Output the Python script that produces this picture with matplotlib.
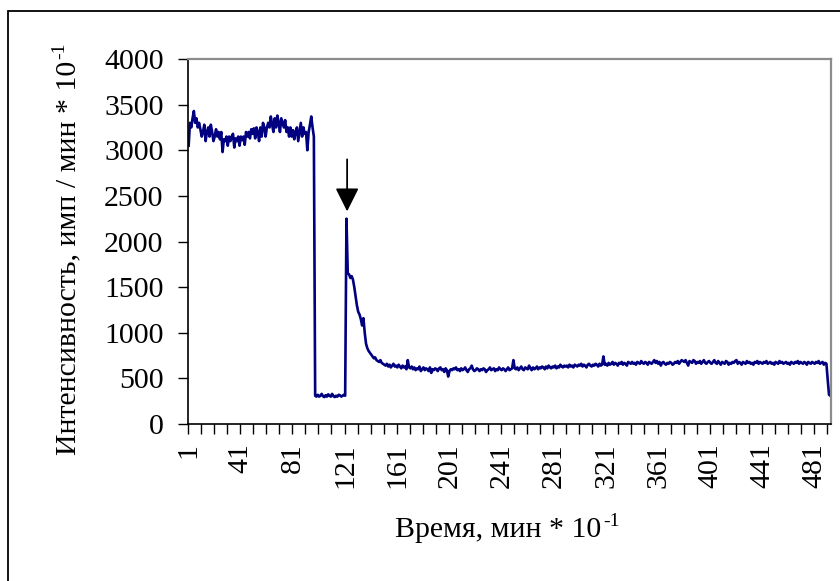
import numpy as np
import matplotlib
matplotlib.use("Agg")
import matplotlib.pyplot as plt
from matplotlib.patches import Rectangle
from matplotlib.ticker import FixedLocator

plt.rcParams['font.family'] = ['Liberation Serif', 'DejaVu Serif']

# ---- data (intensity, imp/min * 10^-1) ----
plateau = [3050, 3300, 3250, 3350, 3430, 3300, 3350, 3250, 3300, 3230,
           3150, 3200, 3280, 3100, 3200, 3250, 3150, 3280, 3200, 3100,
           3150, 3230, 3150, 3200, 3120, 3200, 2980, 3120, 3100, 3150,
           3050, 3150, 3100, 3150, 3180, 3030, 3130, 3100, 3150, 3050,
           3150, 3110, 3150, 3060, 3200, 3150, 3200, 3130, 3230, 3180,
           3240, 3130, 3250, 3200, 3100, 3250, 3150, 3300, 3250, 3150,
           3250, 3300, 3250, 3370, 3280, 3200, 3350, 3250, 3380, 3300,
           3200, 3350, 3300, 3250, 3330, 3200, 3250, 3150, 3250, 3150,
           3220, 3120, 3200, 3250, 3100, 3200, 3300, 3150, 3250, 3180,
           3200, 3000, 3200, 3280, 3370, 3250, 3150]
low = [310, 300, 320, 300, 310, 330, 305, 295, 315, 300, 325, 310,
       300, 330, 305, 295, 310, 300, 320, 315, 300, 310, 320, 310]
peak_decay = [2250, 1650, 1640, 1600, 1620, 1580, 1500, 1400, 1300, 1230,
              1200, 1150, 1080, 1160, 1000, 880, 830, 800, 780, 760,
              740, 720, 730, 700, 690, 680, 700, 670, 660]
baseline = [650, 640, 660, 630, 650, 620, 640, 660, 630, 640,
            620, 650, 630, 610, 640, 620, 630, 600, 700, 620,
            610, 630, 600, 620, 590, 610, 600, 630, 580, 600,
            620, 590, 610, 600, 580, 620, 560, 600, 590, 610,
            600, 580, 610, 620, 590, 600, 570, 610, 590, 520,
            580, 600, 590, 610, 600, 620, 590, 600, 580, 610,
            590, 600, 620, 590, 570, 600, 610, 640, 600, 580,
            590, 610, 600, 580, 600, 590, 610, 600, 570, 590,
            600, 620, 590, 600, 610, 580, 600, 590, 620, 600,
            590, 610, 600, 580, 600, 620, 590, 600, 610, 700,
            610, 600, 620, 590, 610, 630, 600, 590, 620, 610,
            600, 640, 610, 590, 620, 600, 610, 630, 600, 620,
            610, 630, 620, 600, 630, 610, 640, 620, 610, 630,
            620, 640, 610, 630, 620, 650, 630, 620, 640, 630,
            640, 620, 650, 630, 640, 620, 650, 640, 630, 650,
            640, 660, 630, 650, 640, 620, 650, 660, 640, 630,
            650, 640, 660, 650, 630, 660, 640, 650, 740, 650,
            660, 640, 670, 650, 660, 680, 650, 670, 660, 640,
            670, 660, 680, 650, 670, 660, 640, 680, 670, 660,
            680, 660, 670, 650, 680, 670, 660, 690, 670, 660,
            680, 670, 650, 680, 670, 660, 680, 700, 670, 690,
            660, 680, 640, 670, 680, 660, 650, 670, 660, 680,
            670, 650, 660, 680, 670, 690, 660, 680, 700, 690,
            680, 700, 670, 640, 690, 680, 670, 700, 690, 660,
            680, 670, 690, 660, 680, 700, 670, 660, 680, 690,
            670, 660, 680, 700, 670, 660, 690, 670, 650, 680,
            670, 660, 690, 680, 650, 670, 660, 680, 670, 690,
            700, 660, 680, 670, 650, 680, 670, 660, 690, 670,
            680, 660, 670, 650, 680, 670, 690, 660, 680, 670,
            660, 680, 670, 690, 660, 670, 680, 660, 670, 650,
            680, 670, 660, 690, 670, 680, 660, 670, 680, 660,
            670, 650, 680, 670, 660, 680, 670, 690, 660, 680,
            670, 660, 680, 670, 650, 680, 670, 660, 680, 670,
            660, 680, 670, 690, 660, 670, 680, 650, 670, 660,
            480, 320, 310]
values = plateau + low + peak_decay + baseline
x = np.arange(1, len(values) + 1)
N = len(values)
tick_labels = [str(v) for v in range(1, N + 1, 40)]
spike_index = len(plateau) + len(low) + 1   # category of the marked peak
y_ticks = list(range(0, 4001, 500))

# ---- figure ----
fig = plt.figure(figsize=(8.4, 5.81), dpi=100)
fig.patch.set_facecolor('white')

# outer chart frame (extends past right/bottom edges)
fig.patches.append(Rectangle((7.5 / 840, -0.1), 1.2, 1 - 10.5 / 581 + 0.1,
                             transform=fig.transFigure, fill=False,
                             edgecolor='black', linewidth=1.3, zorder=0))

ax = fig.add_axes([188 / 840, 1 - 424 / 581, 643 / 840, 365 / 581])
ax.plot(x, values, color='#000080', linewidth=1.9, solid_joinstyle='round')

ax.set_xlim(0.5, N + 0.5)
ax.set_ylim(0, 4000)

# y axis
ax.set_yticks(y_ticks)
ax.set_yticklabels([str(v) for v in y_ticks])
ax.tick_params(axis='y', direction='out', length=7.5, width=1.0,
               labelsize=21.5, pad=10, color='black')

# x axis: tick marks between categories every 10, labels every 40
ax.xaxis.set_minor_locator(FixedLocator(np.arange(0.5, N + 0.6, 10)))
ax.set_xticks(list(range(1, N + 1, 40)))
ax.set_xticklabels(tick_labels, rotation=90)
ax.tick_params(axis='x', which='major', length=0, labelsize=21.5, pad=14)
ax.tick_params(axis='x', which='minor', direction='out', length=7.5,
               width=1.0, color='black')

for s in ['left', 'bottom']:
    ax.spines[s].set_color('black')
    ax.spines[s].set_linewidth(1.2)
for s in ['top', 'right']:
    ax.spines[s].set_color('#8c8c8c')
    ax.spines[s].set_linewidth(1.6)

# arrow marking the peak
ax.annotate('', xy=(spike_index + 0.5, 2330), xytext=(spike_index + 0.5, 2900),
            arrowprops=dict(arrowstyle='-|>,head_length=1.0,head_width=0.5',
                            mutation_scale=14.4, color='black', lw=1.3,
                            shrinkA=0, shrinkB=0))

# axis titles with a hyphen superscript "-1"
xt = fig.text(505 / 840 - 0.008, 1 - 530 / 581, 'Время, мин * 10',
              ha='center', va='center', fontsize=21.5)
fig.canvas.draw()
ax.annotate('-1', xy=(1, 1), xycoords=xt, xytext=(1, 3),
            textcoords='offset points', ha='left', va='top', fontsize=14,
            annotation_clip=False)

yt = fig.text(68 / 840, 1 - 258 / 581, 'Интенсивность, имп / мин * 10',
              ha='center', va='center', rotation=90, fontsize=21.5)
ax.annotate('-1', xy=(0, 1), xycoords=yt, xytext=(-3, 1),
            textcoords='offset points', ha='left', va='bottom', fontsize=14,
            rotation=90, annotation_clip=False)

fig.savefig('out.png', dpi=100, facecolor='white')
